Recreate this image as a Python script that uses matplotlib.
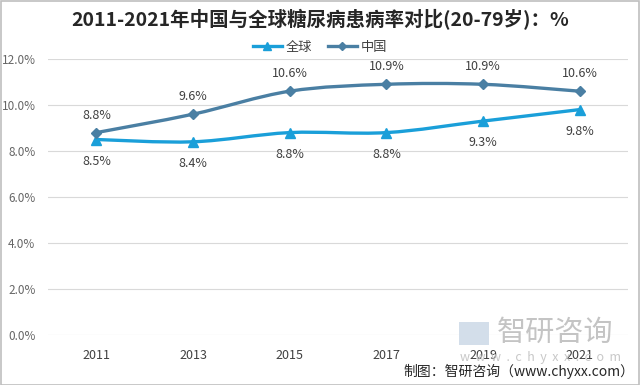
import matplotlib
matplotlib.use("Agg")
import matplotlib.pyplot as plt
from matplotlib.path import Path
from matplotlib.patches import PathPatch, Rectangle
import numpy as np

plt.rcParams['font.family'] = ['Noto Sans CJK SC', 'DejaVu Sans']

years = ['2011', '2013', '2015', '2017', '2019', '2021']
global_vals = [8.5, 8.4, 8.8, 8.8, 9.3, 9.8]
china_vals = [8.8, 9.6, 10.6, 10.9, 10.9, 10.6]
yticks = [0, 2, 4, 6, 8, 10, 12]
title = '2011-2021年中国与全球糖尿病患病率对比(20-79岁)：%'

c_global = '#1a9fd9'
c_china = '#4a7fa3'
txt = '#404040'

fig = plt.figure(figsize=(6.4, 3.85), dpi=100)
ax = fig.add_axes([48/640, 1-335/385, 580/640, 276/385])

def smooth_path(xs, ys, t=1/6):
    xs = np.asarray(xs, float); ys = np.asarray(ys, float)
    verts = [(xs[0], ys[0])]; codes = [Path.MOVETO]
    n = len(xs)
    for i in range(n-1):
        x0, y0 = (xs[i-1], ys[i-1]) if i > 0 else (xs[i], ys[i])
        x3, y3 = (xs[i+2], ys[i+2]) if i+2 < n else (xs[i+1], ys[i+1])
        c1 = (xs[i] + (xs[i+1]-x0)*t, ys[i] + (ys[i+1]-y0)*t)
        c2 = (xs[i+1] - (x3-xs[i])*t, ys[i+1] - (y3-ys[i])*t)
        verts += [c1, c2, (xs[i+1], ys[i+1])]
        codes += [Path.CURVE4]*3
    return Path(verts, codes)

x = np.arange(len(years))
for vals, col in [(global_vals, c_global), (china_vals, c_china)]:
    ax.add_patch(PathPatch(smooth_path(x, vals), fill=False, edgecolor=col, lw=2.4, zorder=3))

ax.plot(x, global_vals, ls='none', marker='^', ms=7, color=c_global, zorder=4)
ax.plot(x, china_vals, ls='none', marker='D', ms=5, color=c_china, zorder=4)
# legend handles
lg, = ax.plot([], [], color=c_global, lw=2.4, marker='^', ms=6, label='全球')
lc, = ax.plot([], [], color=c_china, lw=2.4, marker='D', ms=4.5, label='中国')

for xi, v in zip(x, china_vals):
    ax.annotate(f'{v:.1f}%', (xi, v), xytext=(0, 12.5), textcoords='offset points',
                ha='center', va='center', fontsize=9, color=txt)
for xi, v in zip(x, global_vals):
    ax.annotate(f'{v:.1f}%', (xi, v), xytext=(0, -15.5), textcoords='offset points',
                ha='center', va='center', fontsize=9, color=txt)

ax.set_xlim(-0.5, len(years)-0.5)
ax.set_ylim(0, 12)
ax.set_yticks(yticks)
ax.set_yticklabels([f'{v:.1f}%' for v in yticks], fontsize=8.5, color='#666666')
ax.set_xticks(x)
ax.set_xticklabels(years, fontsize=9, color=txt)
ax.tick_params(axis='x', length=0, pad=10)
ax.tick_params(axis='y', length=0, pad=9)
ax.grid(axis='y', color='#d9d9d9', lw=0.8)
ax.set_axisbelow(True)
for s in ax.spines.values():
    s.set_visible(False)
ax.set_facecolor('none')

fig.text(0.5, 1-20/385, title, ha='center', va='center', fontsize=14, fontweight='bold', color='#262626')
fig.legend(handles=[lg, lc], loc='center', bbox_to_anchor=(0.5, 1-47/385), ncol=2, frameon=False,
           fontsize=9.5, handlelength=2.2, columnspacing=1.2, handletextpad=0.3, labelcolor=txt)

# watermark
fig.text(555/640, 1-333/385, '智研咨询', ha='center', va='center', fontsize=21, color='#c4c4c4', zorder=0)
fig.text(541/640, 1-357/385, 'w  w  w  .  c  h  y  x  x  .  c  o  m', ha='center', va='center',
         fontsize=9, color='#c8c8c8', zorder=0)
fig.patches.append(Rectangle((459/640, 1-345/385), 30/640, 23/385, transform=fig.transFigure,
                             facecolor='#d3deea', edgecolor='none', zorder=0))
fig.text(634/640, 1-371/385, '制图：智研咨询（www.chyxx.com）', ha='right', va='center', fontsize=10, color='#262626')

fig.patches.append(Rectangle((0.001, 0.001), 0.997, 0.997, transform=fig.transFigure,
                             fill=False, edgecolor='#bfbfbf', lw=1.2))
fig.savefig('out.png', dpi=100)
